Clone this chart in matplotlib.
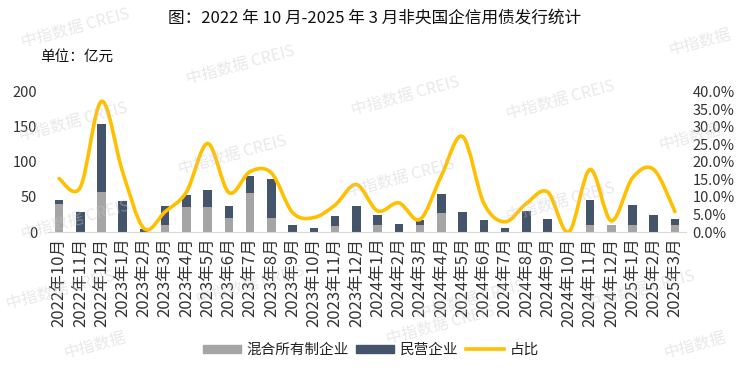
import matplotlib
matplotlib.use("Agg")
import matplotlib.pyplot as plt
import numpy as np
from matplotlib.path import Path
from matplotlib.patches import PathPatch, Patch
from matplotlib.lines import Line2D
from matplotlib.ticker import FuncFormatter

plt.rcParams['font.family'] = ['Noto Sans CJK SC', 'DejaVu Sans']

months = ["2022年10月", "2022年11月", "2022年12月", "2023年1月", "2023年2月", "2023年3月",
          "2023年4月", "2023年5月", "2023年6月", "2023年7月", "2023年8月", "2023年9月",
          "2023年10月", "2023年11月", "2023年12月", "2024年1月", "2024年2月", "2024年3月",
          "2024年4月", "2024年5月", "2024年6月", "2024年7月", "2024年8月", "2024年9月",
          "2024年10月", "2024年11月", "2024年12月", "2025年1月", "2025年2月", "2025年3月"]
mixed = [40, 0, 57, 0, 0, 10, 36, 36, 20, 56, 20, 0, 0, 9, 0, 10, 0, 10, 27, 0,
         0, 0, 0, 0, 0, 10, 10, 10, 0, 10]
private = [5, 28, 97, 44, 4, 27, 17, 24, 17, 24, 56, 10, 6, 14, 37, 14, 12, 7, 27, 28,
           17, 6, 30, 19, 0, 35, 0, 28, 24, 8]
share = [15.2, 12.7, 37.2, 17.0, 1.0, 5.8, 11.4, 25.2, 11.2, 17.2, 16.8, 5.5, 4.1, 7.7, 13.5,
         6.0, 8.3, 3.6, 16.0, 27.2, 8.2, 2.9, 8.1, 11.4, 0.0, 17.8, 3.2, 15.4, 17.8, 5.8]

c_gray = "#A5A5A5"
c_dark = "#44546A"
c_yel = "#FFC000"

fig = plt.figure(figsize=(7.44, 3.73), dpi=100)
W, H = 744, 373
ax = fig.add_axes([48.4 / W, 1 - 232 / H, 637.2 / W, 140.5 / H])

x = np.arange(len(months))
ax.bar(x, mixed, width=0.4, color=c_gray, zorder=2)
ax.bar(x, private, width=0.4, bottom=mixed, color=c_dark, zorder=2)
ax.set_xlim(-0.5, len(months) - 0.5)
ax.set_ylim(0, 200)
ax.set_yticks([0, 50, 100, 150, 200])
ax.set_xticks(x)
ax.set_xticklabels(months, rotation=90, fontsize=12, color="#333333")
ax.tick_params(axis='y', length=0, pad=8, labelsize=10.5, labelcolor="#333333")
ax.tick_params(axis='x', length=0, pad=4)
for s in ["top", "left", "right"]:
    ax.spines[s].set_visible(False)
ax.spines["bottom"].set_color("#D9D9D9")
ax.set_facecolor("none")

ax2 = ax.twinx()
ax2.set_ylim(0, 40)
ax2.set_yticks(np.arange(0, 41, 5))
ax2.yaxis.set_major_formatter(FuncFormatter(lambda v, p: f"{v:.1f}%"))
ax2.tick_params(axis='y', length=0, pad=5, labelsize=10.5, labelcolor="#333333")
for s in ["top", "left", "right", "bottom"]:
    ax2.spines[s].set_visible(False)

# smoothed line (Excel-style Bezier through the data points)
pts = np.column_stack([x, share]).astype(float)
n = len(pts)
verts = [tuple(pts[0])]
codes = [Path.MOVETO]
for i in range(n - 1):
    p0 = pts[i - 1] if i > 0 else pts[i]
    p1 = pts[i]
    p2 = pts[i + 1]
    p3 = pts[i + 2] if i + 2 < n else pts[i + 1]
    c1 = p1 + (p2 - p0) / 6.0
    c2 = p2 - (p3 - p1) / 6.0
    verts += [tuple(c1), tuple(c2), tuple(p2)]
    codes += [Path.CURVE4] * 3
path = Path(verts, codes)
ax2.add_patch(PathPatch(path, facecolor="none", edgecolor=c_yel, lw=2.6,
                        capstyle="round", joinstyle="round", zorder=3))

# texts
fig.text(375 / W, 1 - 18 / H, "图：2022 年 10 月-2025 年 3 月非央国企信用债发行统计",
         ha="center", va="center", fontsize=12, color="#111111")
fig.text(40 / W, 1 - 57 / H, "单位：亿元", ha="left", va="center", fontsize=10.5,
         color="#111111")

handles = [Patch(color=c_gray), Patch(color=c_dark), Line2D([], [], color=c_yel, lw=2.6)]
fig.legend(handles, ["混合所有制企业", "民营企业", "占比"], loc="center",
           bbox_to_anchor=(371 / W, 1 - 350 / H), ncol=3, frameon=False,
           fontsize=10.5, handlelength=2.6, handleheight=0.5, columnspacing=0.5,
           handletextpad=0.4, labelcolor="#222222")

# watermarks
wm = [(75, 28, "中指数据 CREIS"), (240, 65, "中指数据 CREIS"), (405, 96, "中指数据 CREIS"),
      (700, 42, "中指数据"), (73, 122, "中指数据 CREIS"), (232, 155, "中指数据 CREIS"),
      (400, 178, "中指数据 CREIS"), (560, 100, "中指数据 CREIS"), (560, 202, "中指数据 CREIS"),
      (690, 137, "中指数据"), (75, 220, "中指数据 CREIS"), (60, 290, "中指数据 CREIS"),
      (250, 285, "中指数据 CREIS"), (470, 300, "中指数据 CREIS"), (640, 290, "中指数据 CREIS"),
      (95, 345, "中指数据"), (440, 325, "中指数据 CREIS"), (695, 345, "中指数据")]
for wx, wy, t in wm:
    fig.text(wx / W, 1 - wy / H, t, ha="center", va="center", fontsize=11.5,
             color="#C8C8C8", alpha=0.4, rotation=15, zorder=10)

fig.savefig("out.png", dpi=100)
